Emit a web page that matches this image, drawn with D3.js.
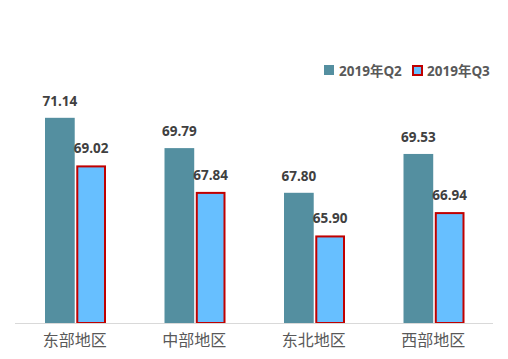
<!DOCTYPE html>
<html><head><meta charset="utf-8">
<script src="https://cdn.jsdelivr.net/npm/d3@7/dist/d3.min.js"></script>
<style>html,body{margin:0;padding:0;background:#fff;}</style>
</head><body><svg id="c" width="508" height="359"></svg>
<script>
const categories = ["东部地区","中部地区","东北地区","西部地区"];
const seriesNames = ["2019年Q2","2019年Q3"];
const q2 = [71.14, 69.79, 67.80, 69.53];
const q3 = [69.02, 67.84, 65.90, 66.94];
const yDomain = [62, 72];

const svg = d3.select("#c");
const x0 = d3.scaleBand().domain(categories).range([15, 493]).paddingInner(0).paddingOuter(0);
const x1 = d3.scaleBand().domain(seriesNames).range([30, 91]).paddingInner(0.05);
const y = d3.scaleLinear().domain(yDomain).range([323, 98.5]);

const data = categories.map((c,i)=>({c, vals:[{s:seriesNames[0],v:q2[i]},{s:seriesNames[1],v:q3[i]}]}));
const fill = {"2019年Q2":"#548FA0","2019年Q3":"#67BFFF"};

const g = svg.selectAll("g.grp").data(data).join("g").attr("transform",d=>`translate(${x0(d.c)},0)`);
g.selectAll("rect").data(d=>d.vals).join("rect")
  .attr("x",d=>x1(d.s)+(d.s===seriesNames[1]?1:0))
  .attr("y",d=>y(d.v)+(d.s===seriesNames[1]?1:0))
  .attr("width",d=>x1.bandwidth()-(d.s===seriesNames[1]?2:0))
  .attr("height",d=>y(yDomain[0])-y(d.v)-(d.s===seriesNames[1]?1:0))
  .attr("fill",d=>fill[d.s])
  .attr("stroke",d=>d.s===seriesNames[1]?"#C00000":"none")
  .attr("stroke-width",2);
g.selectAll("text.val").data(d=>d.vals).join("text").attr("class","val")
  .attr("x",d=>x1(d.s)+x1.bandwidth()/2)
  .attr("y",d=>y(d.v)-12)
  .attr("text-anchor","middle")
  .attr("font-family","'Open Sans', 'DejaVu Sans', sans-serif")
  .attr("font-weight","bold").attr("font-size",13.5).attr("fill","#404040")
  .text(d=>d.v.toFixed(2));

svg.append("line").attr("x1",15).attr("x2",493).attr("y1",323.5).attr("y2",323.5).attr("stroke","#d9d9d9").attr("stroke-width",1);

const xAxis = d3.axisBottom(x0).tickSize(0).tickPadding(0);
const ax = svg.append("g").attr("transform","translate(0,333)").call(xAxis);
ax.select(".domain").remove();
ax.selectAll("text").attr("font-family","'Noto Sans CJK SC', sans-serif").attr("font-size",16).attr("fill","#595959").attr("dy","0.8em");

// legend
const legendX = [324, 412];
const lg = svg.selectAll("g.leg").data(seriesNames).join("g").attr("transform",(d,i)=>`translate(${legendX[i]},65)`);
lg.append("rect").attr("x",d=>d===seriesNames[1]?1:0).attr("y",d=>d===seriesNames[1]?1:0)
  .attr("width",d=>d===seriesNames[1]?9:10).attr("height",d=>d===seriesNames[1]?9:10)
  .attr("fill",d=>fill[d]).attr("stroke",d=>d===seriesNames[1]?"#C00000":"none").attr("stroke-width",2);
lg.append("text").attr("x",15).attr("y",10.5).attr("font-family","'Open Sans', 'Noto Sans CJK SC', sans-serif")
  .attr("font-weight","bold").attr("font-size",13.5).attr("fill","#595959").text(d=>d);
</script></body></html>
